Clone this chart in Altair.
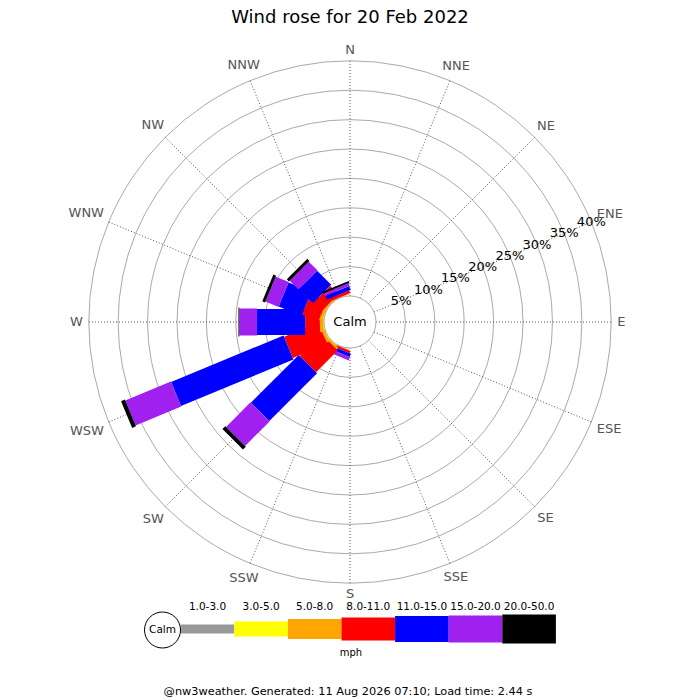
import math
import altair as alt
import pandas as pd

directions = ["N", "NNE", "NE", "ENE", "E", "ESE", "SE", "SSE",
              "S", "SSW", "SW", "WSW", "W", "WNW", "NW", "NNW"]
speed_bins = ["1.0-3.0", "3.0-5.0", "5.0-8.0", "8.0-11.0",
              "11.0-15.0", "15.0-20.0", "20.0-50.0"]

# % of the day from each direction, one list per speed bin (mph), N..NNW
pct_1_3 = [0, 0, 0, 0, 0, 0, 0, 0, 0, 0, 0, 0, 0, 0, 0, 0]
pct_3_5 = [0, 0, 0, 0, 0, 0, 0, 0, 0, 0, 0.1, 0.1, 0.1, 0.1, 0, 0]
pct_5_8 = [0, 0, 0, 0, 0, 0, 0, 0, 0, 0.1, 0.4, 0.5, 0.6, 0.5, 0.3, 0.1]
pct_8_11 = [0, 0, 0, 0, 0, 0, 0, 0, 0, 0.4, 5.2, 6.3, 2.5, 3.0, 2.0, 0.5]
pct_11_15 = [0, 0, 0, 0, 0, 0, 0, 0, 0, 0.6, 11.5, 20.7, 8.2, 4.2, 3.4, 0.7]
pct_15_20 = [0, 0, 0, 0, 0, 0, 0, 0, 0, 0.6, 5.9, 8.4, 3.0, 2.4, 2.1, 0.5]
pct_20_50 = [0, 0, 0, 0, 0, 0, 0, 0, 0, 0, 0.7, 0.7, 0.15, 0.5, 0.5, 0.3]
series = [pct_1_3, pct_3_5, pct_5_8, pct_8_11, pct_11_15, pct_15_20, pct_20_50]

ring_pct = [5, 10, 15, 20, 25, 30, 35, 40]

title_text = "Wind rose for 20 Feb 2022"
unit_text = "mph"
footer_text = "@nw3weather. Generated: 11 Aug 2026 07:10; Load time: 2.44 s"

# styling
bin_colors = ["#999999", "#ffff00", "#ffa500", "#ff0000", "#0000ff", "#a020f0", "#000000"]
bin_widths = [9, 15, 20, 23, 26, 27, 29]
FONT = "DejaVu Sans"
R0 = 26.0   # calm circle radius (px)
K = 5.88    # px per percent
R_OUT = R0 + K * ring_pct[-1]


def polar(r, i):
    a = math.radians(i * 22.5)
    return r * math.sin(a), r * math.cos(a)


xs = alt.Scale(domain=[-342, 342], nice=False, zero=False)
ys = alt.Scale(domain=[-378, 314], nice=False, zero=False)
X = lambda f: alt.X(f, scale=xs, axis=None)
Y = lambda f: alt.Y(f, scale=ys, axis=None)
RAD = lambda f: alt.Radius(f, scale=None, stack=None)

# bar segments
rows = []
for i, d in enumerate(directions):
    cum = 0.0
    for b, vals in zip(speed_bins, series):
        v = vals[i]
        if v <= 0:
            continue
        x, y = polar(R0 + K * cum, i)
        x2, y2 = polar(R0 + K * (cum + v), i)
        rows.append(dict(direction=d, bin=b, pct=v, x=x, y=y, x2=x2, y2=y2))
        cum += v
bars_df = pd.DataFrame(rows)

color_scale = alt.Scale(domain=speed_bins, range=bin_colors)
width_scale = alt.Scale(type="ordinal", domain=speed_bins, range=bin_widths)

bars = alt.Chart(bars_df).mark_rule(strokeCap="butt").encode(
    x=X("x:Q"), y=Y("y:Q"), x2="x2:Q", y2="y2:Q",
    color=alt.Color("bin:N", scale=color_scale, legend=None),
    strokeWidth=alt.StrokeWidth("bin:N", scale=width_scale, legend=None),
)

# radial grid
spokes = []
for i, d in enumerate(directions):
    x, y = polar(R0, i)
    x2, y2 = polar(R_OUT, i)
    spokes.append(dict(x=x, y=y, x2=x2, y2=y2))
spokes = alt.Chart(pd.DataFrame(spokes)).mark_rule(
    color="#555555", strokeWidth=1, strokeDash=[1, 2]
).encode(x=X("x:Q"), y=Y("y:Q"), x2="x2:Q", y2="y2:Q")

rings_df = pd.DataFrame({"pct": ring_pct})
rings_df["r"] = R0 + K * rings_df["pct"]
rings_df["cx"] = 0
rings_df["cy"] = 0
rings = alt.Chart(rings_df).mark_arc(
    filled=False, stroke="#aaaaaa", strokeWidth=1, theta=0, theta2=2 * math.pi
).encode(x=X("cx:Q"), y=Y("cy:Q"), radius=RAD("r:Q"))

# ring labels along ENE
ring_lab = rings_df.copy()
ring_lab["x"] = ring_lab["r"] * math.sin(math.radians(67.5))
ring_lab["y"] = ring_lab["r"] * math.cos(math.radians(67.5))
ring_lab["label"] = ring_lab["pct"].astype(str) + "%"
ring_labels = alt.Chart(ring_lab).mark_text(
    font=FONT, fontSize=13, color="#000000", align="center", baseline="middle"
).encode(x=X("x:Q"), y=Y("y:Q"), text="label:N")

# direction labels
char_w = {"N": 0.748, "E": 0.632, "S": 0.635, "W": 0.989}
dl = []
for i, d in enumerate(directions):
    a = math.radians(i * 22.5)
    w = sum(char_w[c] for c in d) * 13
    r = R_OUT + 6 + abs(math.sin(a)) * w / 2 + abs(math.cos(a)) * 5
    x, y = polar(r, i)
    dl.append(dict(x=x, y=y, label=d))
dir_labels = alt.Chart(pd.DataFrame(dl)).mark_text(
    font=FONT, fontSize=13, color="#555555", align="center", baseline="middle"
).encode(x=X("x:Q"), y=Y("y:Q"), text="label:N")

# calm centre
calm_df = pd.DataFrame({"cx": [0], "cy": [0], "r": [R0], "label": ["Calm"]})
calm = alt.Chart(calm_df).mark_arc(
    fill="#ffffff", stroke="#aaaaaa", strokeWidth=1, theta=0, theta2=2 * math.pi
).encode(x=X("cx:Q"), y=Y("cy:Q"), radius=RAD("r:Q"))
calm_text = alt.Chart(calm_df).mark_text(
    font=FONT, fontSize=13, color="#000000", align="center", baseline="middle"
).encode(x=X("cx:Q"), y=Y("cy:Q"), text="label:N")

# legend
seg = 53.6
leg_df = pd.DataFrame({"bin": speed_bins})
leg_df["x"] = -169.3 + seg * leg_df.index
leg_df["x2"] = leg_df["x"] + seg
leg_df["xm"] = leg_df["x"] + seg / 2
leg_df["y"] = -307
leg_df["ly"] = -285
leg_bars = alt.Chart(leg_df).mark_rule(strokeCap="butt").encode(
    x=X("x:Q"), y=Y("y:Q"), x2="x2:Q", y2="y:Q",
    color=alt.Color("bin:N", scale=color_scale, legend=None),
    strokeWidth=alt.StrokeWidth("bin:N", scale=width_scale, legend=None),
)
leg_labels = alt.Chart(leg_df).mark_text(
    font=FONT, fontSize=10.5, color="#000000", align="center", baseline="middle"
).encode(x=X("xm:Q"), y=Y("ly:Q"), text="bin:N")

leg_calm_df = pd.DataFrame({"cx": [-187.5], "cy": [-308], "r": [18], "label": ["Calm"]})
leg_calm = alt.Chart(leg_calm_df).mark_arc(
    fill="#ffffff", stroke="#000000", strokeWidth=1, theta=0, theta2=2 * math.pi
).encode(x=X("cx:Q"), y=Y("cy:Q"), radius=RAD("r:Q"))
leg_calm_text = alt.Chart(leg_calm_df).mark_text(
    font=FONT, fontSize=10.5, color="#000000", align="center", baseline="middle"
).encode(x=X("cx:Q"), y=Y("cy:Q"), text="label:N")


def label(text, x, y, size):
    df = pd.DataFrame({"x": [x], "y": [y], "label": [text]})
    return alt.Chart(df).mark_text(
        font=FONT, fontSize=size, color="#000000", align="center", baseline="middle"
    ).encode(x=X("x:Q"), y=Y("y:Q"), text="label:N")


title = label(title_text, 0, 304, 18)
unit = label(unit_text, 1, -331, 10)
footer = label(footer_text, -2, -370, 11.3)

chart = alt.layer(
    rings, spokes, bars, calm, calm_text, ring_labels, dir_labels,
    leg_bars, leg_calm, leg_calm_text, leg_labels, title, unit, footer,
).properties(
    width=684, height=692, padding=0, autosize="none", background="#ffffff"
).configure_view(stroke=None)

chart.save("out.html", embed_options={"renderer": "svg", "actions": False})
